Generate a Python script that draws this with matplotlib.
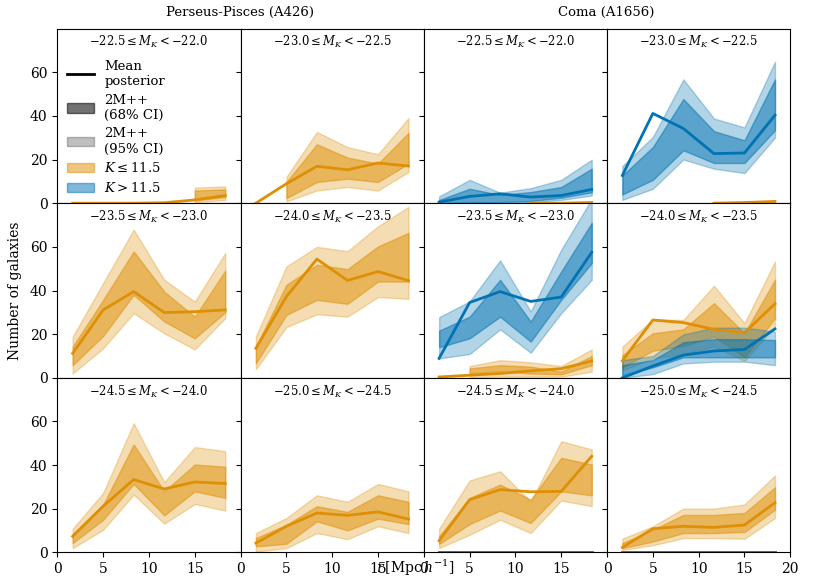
import numpy as np
import matplotlib
matplotlib.use('Agg')
import matplotlib.pyplot as plt
from matplotlib.lines import Line2D
from matplotlib.patches import Patch

plt.rcParams['font.family'] = ['DejaVu Serif']
plt.rcParams['mathtext.fontset'] = 'dejavuserif'

nan = np.nan

# radial bin centres [Mpc/h]
r_bins = [1.67, 5.0, 8.33, 11.67, 15.0, 18.33]

# magnitude bin labels (row-major within each cluster)
mag_bins = [(-22.5, -22.0), (-23.0, -22.5),
            (-23.5, -23.0), (-24.0, -23.5),
            (-24.5, -24.0), (-25.0, -24.5)]

cluster_names = ["Perseus-Pisces (A426)", "Coma (A1656)"]
y_ticks = [0, 20, 40, 60]

# ---------------- Perseus-Pisces, K <= 11.5 ----------------
pp1_bright = dict(mean=[0, 0, 0, 0.2, 1.5, 3.5],
                  lo95=[nan, nan, nan, nan, 0.4, 1.5], lo68=[nan, nan, nan, nan, 1.2, 2.8],
                  hi68=[nan, nan, nan, nan, 5.8, 6.3], hi95=[nan, nan, nan, nan, 7.1, 7.7])
pp2_bright = dict(mean=[0, 8.9, 16.9, 15.3, 18.4, 17.0],
                  lo95=[nan, 0.8, 5.8, 7.4, 5.8, 14.3], lo68=[nan, 2.3, 9.7, 11.2, 9.7, 18.1],
                  hi68=[nan, 9.7, 27.0, 20.9, 18.1, 32.2], hi95=[nan, 12.0, 32.6, 25.7, 22.4, 39.0])
pp3_bright = dict(mean=[11.2, 31.1, 39.5, 29.9, 30.3, 31.1],
                  lo95=[2.0, 13.5, 29.6, 20.4, 13.0, 27.3], lo68=[5.8, 19.2, 38.0, 25.8, 18.1, 30.0],
                  hi68=[14.3, 35.7, 57.9, 39.5, 28.0, 49.1], hi95=[18.9, 43.4, 67.9, 44.9, 34.9, 57.2])
pp4_bright = dict(mean=[13.5, 37.2, 54.4, 44.6, 48.7, 44.5],
                  lo95=[3.9, 23.2, 29.1, 28.0, 37.0, 36.2], lo68=[6.6, 28.8, 35.7, 33.9, 44.1, 44.1],
                  hi68=[14.3, 42.6, 51.8, 49.8, 60.2, 66.4], hi95=[19.0, 51.0, 60.0, 58.0, 69.4, 78.3])
pp5_bright = dict(mean=[7.4, 21.2, 33.4, 29.1, 32.3, 31.6],
                  lo95=[2.0, 10.4, 26.5, 13.2, 22.2, 19.2], lo68=[4.3, 15.0, 31.4, 17.0, 28.0, 25.0],
                  hi68=[8.4, 21.9, 49.5, 28.0, 40.3, 39.3], hi95=[10.9, 27.3, 59.2, 32.2, 48.3, 46.4])
pp6_bright = dict(mean=[4.3, 12.0, 18.1, 17.0, 18.6, 15.3],
                  lo95=[0.4, 2.0, 8.9, 6.1, 12.0, 8.9], lo68=[2.8, 4.0, 14.3, 10.1, 15.5, 13.0],
                  hi68=[6.6, 12.7, 21.2, 18.6, 26.2, 23.2], hi95=[8.9, 15.8, 26.2, 23.2, 31.4, 28.0])

# ---------------- Coma, K <= 11.5 ----------------
co1_bright = dict(mean=[nan, nan, nan, 0, 0, 0.3],
                  lo95=[nan] * 6, lo68=[nan] * 6, hi68=[nan] * 6, hi95=[nan] * 6)
co2_bright = dict(mean=[nan, nan, nan, 0, 0.3, 0.8],
                  lo95=[nan] * 6, lo68=[nan] * 6, hi68=[nan] * 6, hi95=[nan] * 6)
co3_bright = dict(mean=[0.4, 1.2, 2.0, 3.2, 4.2, 7.7],
                  lo95=[nan, 0.3, 0.5, 0.5, 0.5, 2.8], lo68=[nan, 2.0, 3.0, 2.0, 1.6, 5.8],
                  hi68=[nan, 4.3, 5.8, 5.1, 2.8, 10.0], hi95=[nan, 5.4, 8.1, 7.1, 5.4, 13.0])
co4_bright = dict(mean=[7.8, 26.5, 25.3, 22.2, 20.7, 33.9],
                  lo95=[3.5, 8.9, 10.9, 14.3, 7.8, 23.5], lo68=[4.8, 12.4, 14.6, 18.9, 9.4, 27.3],
                  hi68=[10.4, 20.4, 22.2, 34.2, 20.4, 45.0], hi95=[14.3, 26.8, 26.5, 42.2, 25.0, 53.3])
co5_bright = dict(mean=[5.4, 24.2, 28.8, 27.8, 28.0, 44.1],
                  lo95=[2.0, 8.1, 15.0, 8.9, 23.8, 21.2], lo68=[3.9, 13.0, 19.2, 13.5, 28.0, 26.2],
                  hi68=[7.4, 25.0, 31.1, 24.2, 43.4, 40.3], hi95=[10.9, 33.0, 37.2, 23.2, 51.0, 47.2])
co6_bright = dict(mean=[2.3, 10.9, 12.0, 11.5, 12.6, 22.8],
                  lo95=[1.2, 3.3, 6.6, 6.6, 6.3, 15.8], lo68=[2.0, 5.0, 8.9, 8.9, 9.4, 19.6],
                  hi68=[4.3, 10.4, 17.2, 17.2, 18.1, 29.9], hi95=[6.3, 12.0, 20.1, 20.1, 22.0, 35.3])

# ---------------- Coma, K > 11.5 ----------------
co1_faint = dict(mean=[0.5, 3.1, 4.3, 2.8, 3.5, 6.3],
                 lo95=[0, 0, 0, 0.3, 1.5, 3.5], lo68=[0, 0.3, 0.5, 1.0, 2.5, 5.0],
                 hi68=[1.5, 6.6, 3.8, 5.1, 7.4, 15.8], hi95=[3.1, 10.7, 4.8, 6.9, 10.7, 19.9])
co2_faint = dict(mean=[12.7, 41.1, 34.2, 22.7, 23.0, 40.3],
                 lo95=[1.5, 6.6, 20.0, 15.8, 13.8, 30.0], lo68=[4.0, 10.7, 24.2, 18.4, 18.4, 33.4],
                 hi68=[12.7, 25.7, 47.7, 33.0, 28.8, 56.7], hi95=[17.0, 30.3, 56.7, 38.8, 34.7, 64.8])
co3_faint = dict(mean=[8.9, 34.5, 39.5, 35.0, 37.0, 57.5],
                 lo95=[8.9, 10.9, 22.2, 11.5, 29.6, 44.9], lo68=[14.0, 18.1, 28.0, 16.6, 35.7, 52.6],
                 hi68=[21.6, 28.0, 44.9, 25.8, 48.7, 71.0], hi95=[27.8, 35.0, 53.8, 30.4, 58.7, 82.0])
co4_faint = dict(mean=[0, 5.4, 10.4, 12.3, 13.0, 22.4],
                 lo95=[0, 1.7, 6.6, 7.4, 7.4, 5.8], lo68=[1.2, 4.8, 9.4, 9.4, 9.4, 9.4],
                 hi68=[5.8, 8.1, 16.3, 17.7, 17.7, 17.3], hi95=[8.1, 10.0, 19.9, 23.0, 23.0, 21.2])
co5_faint = dict(mean=[0, 0, 0, 0, 0, 0],
                 lo95=[nan] * 6, lo68=[nan] * 6, hi68=[nan] * 6, hi95=[nan] * 6)
co6_faint = dict(mean=[0, 0, 0, 0, 0, 0],
                 lo95=[nan] * 6, lo68=[nan] * 6, hi68=[nan] * 6, hi95=[nan] * 6)

perseus_bright = [pp1_bright, pp2_bright, pp3_bright, pp4_bright, pp5_bright, pp6_bright]
coma_bright = [co1_bright, co2_bright, co3_bright, co4_bright, co5_bright, co6_bright]
coma_faint = [co1_faint, co2_faint, co3_faint, co4_faint, co5_faint, co6_faint]

ORANGE = '#DE8F05'
BLUE = '#0173B2'

fig = plt.figure(figsize=(8.31, 5.82), dpi=100)
axes = fig.subplots(3, 4, sharey=True, gridspec_kw=dict(wspace=0, hspace=0))
fig.subplots_adjust(left=0.069, right=0.951, top=0.951, bottom=0.0507)


def draw_bands(ax, d, c):
    ax.fill_between(r_bins, d['lo95'], d['hi95'], color=c, alpha=0.3, lw=1)
    ax.fill_between(r_bins, d['lo68'], d['hi68'], color=c, alpha=0.5, lw=1)


for k in range(6):
    row, sub = divmod(k, 2)
    lo, hi = mag_bins[k]
    title = r'$%.1f \leq M_K < %.1f$' % (lo, hi)
    # Perseus
    ax = axes[row, sub]
    draw_bands(ax, perseus_bright[k], ORANGE)
    ax.plot(r_bins, perseus_bright[k]['mean'], color=ORANGE, lw=2)
    ax.text(0.5, 0.922, title, transform=ax.transAxes, ha='center', va='center', fontsize=8.4)
    # Coma
    ax = axes[row, 2 + sub]
    draw_bands(ax, coma_bright[k], ORANGE)
    draw_bands(ax, coma_faint[k], BLUE)
    ax.plot(r_bins, coma_bright[k]['mean'], color=ORANGE, lw=2)
    ax.plot(r_bins, coma_faint[k]['mean'], color=BLUE, lw=2)
    ax.text(0.5, 0.922, title, transform=ax.transAxes, ha='center', va='center', fontsize=8.4)

for i in range(3):
    for j in range(4):
        ax = axes[i, j]
        ax.set_xlim(0, 20)
        ax.set_ylim(0, 80)
        ax.set_yticks(y_ticks)
        if j == 3:
            ax.set_xticks([0, 5, 10, 15, 20])
        else:
            ax.set_xticks([0, 5, 10, 15])
        if i < 2:
            ax.tick_params(labelbottom=False)
        ax.tick_params(labelsize=10)

handles = [Line2D([], [], color='k', lw=2),
           Patch(facecolor='k', edgecolor='k', alpha=0.55),
           Patch(facecolor='k', edgecolor='k', alpha=0.25),
           Patch(facecolor=ORANGE, edgecolor=ORANGE, alpha=0.5),
           Patch(facecolor=BLUE, edgecolor=BLUE, alpha=0.5)]
labels = ['Mean\nposterior', '2M++\n(68% CI)', '2M++\n(95% CI)',
          r'$K \leq 11.5$', r'$K > 11.5$']
axes[0, 0].legend(handles, labels, loc='upper left', bbox_to_anchor=(0, 0.875),
                  frameon=False, fontsize=9.5, handlelength=2.1, labelspacing=0.45,
                  borderaxespad=0.3, handletextpad=0.75)

fig.text(0.289, 0.979, cluster_names[0], ha='center', va='center', fontsize=9.5)
fig.text(0.730, 0.979, cluster_names[1], ha='center', va='center', fontsize=9.5)
fig.text(0.5, 0.024, r'$r\,[\mathrm{Mpc}\,h^{-1}]$', ha='center', va='center', fontsize=10)
fig.text(0.018, 0.5, 'Number of galaxies', rotation=90, ha='center', va='center', fontsize=10)

fig.savefig('out.png', dpi=100)
